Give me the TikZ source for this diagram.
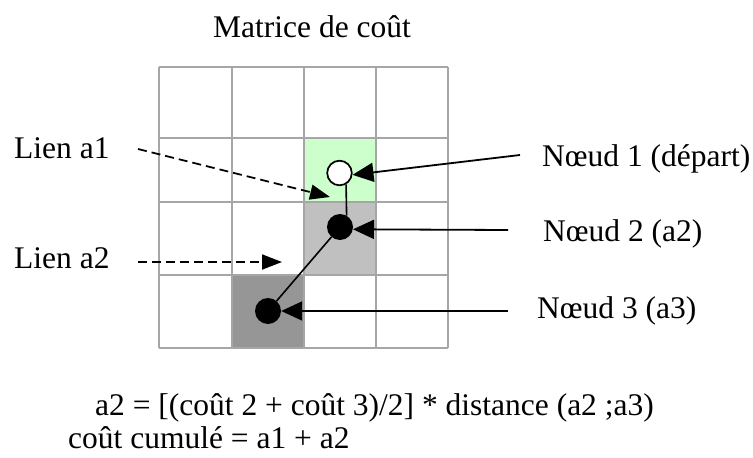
\documentclass[tikz,border=0pt]{standalone}
\usepackage{fontspec}
\setmainfont{Liberation Serif}
\usetikzlibrary{arrows.meta}
\definecolor{gridgray}{HTML}{A6A6A6}
\definecolor{cellgreen}{HTML}{CCFFCC}
\definecolor{cellgray}{HTML}{C0C0C0}
\definecolor{celldark}{HTML}{969696}
\begin{document}
\begin{tikzpicture}[x=1pt,y=-1pt,
 lbl/.style={anchor=base west, inner sep=0pt, font=\fontsize{31.5}{36}\selectfont},
 gridline/.style={draw=gridgray, line width=2.2pt},
 nodewhite/.style={circle, draw=black, fill=white, line width=1.7pt, minimum size=24.6pt, inner sep=0pt},
 nodeblack/.style={circle, fill=black, minimum size=26pt, inner sep=0pt},
 arr/.style={line width=1.8pt, -{Triangle[length=21pt,width=19pt]}},
 darr/.style={line width=1.8pt, -{Triangle[length=20pt,width=15pt]}, dash pattern=on 9pt off 5pt},
 link/.style={line width=1.6pt}]
\useasboundingbox (0,0) rectangle (753,458);
\fill[white] (0,0) rectangle (753,458);
% coloured cells
\fill[cellgreen] (304,138) rectangle (376,202);
\fill[cellgray] (304,202) rectangle (376,275);
\fill[celldark] (232,275) rectangle (304,348);
% grid
\foreach \x in {159,232,304,376,448} \draw[gridline] (\x,67) -- (\x,348);
\foreach \y in {67,138,202,275,348} \draw[gridline] (159,\y) -- (448,\y);
% path nodes
\node[nodewhite] (n1) at (339.5,173) {};
\node[nodeblack] (n2) at (340,227) {};
\node[nodeblack] (n3) at (268,311) {};
\draw[link] (n1.-60) -- (n2.60);
\draw[link] (n2) -- (n3);
% labels
\node[lbl] (title) at (213,37) {Matrice de coût};
\node[lbl] (la1) at (14,158) {Lien a1};
\node[lbl] (la2) at (14,268) {Lien a2};
\node[lbl] (ln1) at (542,166) {Nœud 1 (départ)};
\node[lbl] (ln2) at (543,241) {Nœud 2 (a2)};
\node[lbl] (ln3) at (537,318) {Nœud 3 (a3)};
\node[lbl] (f1) at (95,415) {a2 = [(coût 2 + coût 3)/2] * distance (a2 ;a3)};
\node[lbl] (f2) at (68,448) {coût cumulé = a1 + a2};
% connectors
\coordinate (s1) at (138,149);
\coordinate (t1) at (330,197);
\coordinate (s2) at (138,262);
\coordinate (t2) at (282,262);
\coordinate (c1) at (520,155);
\coordinate (c2) at (508,230);
\coordinate (c3) at (508,311);
\draw[darr] (s1) -- (t1);
\draw[darr] (s2) -- (t2);
\draw[arr] (c1) -- (n1.-8);
\draw[arr] (c2) -- (n2.-10);
\draw[arr] (c3) -- (n3.east);
\end{tikzpicture}
\end{document}
